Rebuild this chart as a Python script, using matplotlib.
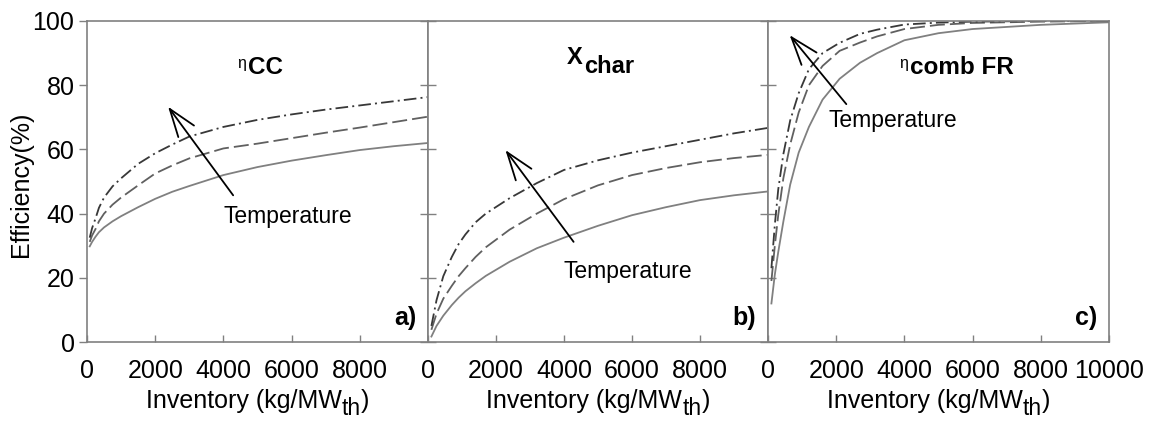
import matplotlib
matplotlib.use("Agg")
import matplotlib.pyplot as plt

plt.rcParams['font.family'] = ['Liberation Sans', 'DejaVu Sans']

# ---- data ----
xa = [80, 150, 250, 350, 500, 750, 1000, 1500, 2000, 2500, 3000, 4000, 5000, 6000, 7000, 8000, 9000, 10000]
a_solid = [29.8, 31.2, 32.8, 34.2, 35.7, 37.6, 39.2, 42.0, 44.6, 46.8, 48.6, 52.0, 54.5, 56.5, 58.2, 59.8, 61.0, 62.0]
a_dash = [31.2, 33.2, 35.2, 37.6, 40.0, 42.8, 45.0, 48.8, 52.5, 55.0, 57.2, 60.3, 61.8, 63.5, 65.2, 66.8, 68.5, 70.2]
a_dashdot = [32.5, 35.5, 38.5, 41.8, 45.0, 48.5, 51.0, 55.5, 58.8, 61.5, 64.0, 67.0, 69.2, 70.9, 72.4, 73.7, 75.0, 76.3]

xb = [100, 250, 450, 700, 900, 1100, 1400, 1700, 2400, 3200, 4000, 5000, 6000, 7000, 8000, 9000, 10000]
b_solid = [1.7, 5.0, 8.2, 11.5, 13.8, 15.8, 18.3, 20.6, 25.0, 29.2, 32.5, 36.2, 39.5, 42.0, 44.2, 45.7, 46.9]
b_dash = [3.8, 8.8, 13.5, 17.5, 20.5, 23.0, 26.5, 29.5, 35.0, 40.0, 44.5, 48.8, 52.0, 54.2, 56.0, 57.3, 58.3]
b_dashdot = [5.0, 13.0, 20.5, 26.5, 30.5, 33.5, 37.3, 40.0, 44.8, 49.5, 53.6, 56.6, 59.0, 61.0, 63.0, 65.0, 66.7]

xc = [100, 200, 300, 450, 650, 900, 1200, 1600, 2100, 2700, 3200, 4000, 5000, 6000, 8000, 10000]
c_solid = [12.0, 21.0, 28.0, 37.5, 49.0, 59.0, 67.0, 75.5, 82.0, 87.0, 90.0, 94.0, 96.2, 97.5, 98.8, 99.6]
c_dash = [19.0, 30.0, 39.5, 51.0, 61.5, 71.5, 80.0, 86.0, 90.7, 93.3, 95.2, 97.5, 98.8, 99.4, 99.8, 100.0]
c_dashdot = [23.0, 36.5, 47.5, 58.5, 69.0, 77.5, 85.0, 90.0, 93.2, 96.0, 97.3, 98.9, 99.5, 99.8, 100.0, 100.0]

yticks = [0, 20, 40, 60, 80, 100]
xticks_ab = [0, 2000, 4000, 6000, 8000]
xticks_c = [0, 2000, 4000, 6000, 8000, 10000]
panel_labels = ['a)', 'b)', 'c)']
xlabel_main, xlabel_sub, xlabel_end = 'Inventory (kg/MW', 'th', ')'
ylabel = 'Efficiency(%)'
temp_label = 'Temperature'

W, H = 1149, 421
fig = plt.figure(figsize=(W / 100, H / 100), dpi=100)
bottom = 1 - 342 / H
height = (342 - 21) / H
lefts = [87, 428, 768]
widths = [341, 340, 341]
axes = [fig.add_axes([l / W, bottom, w / W, height]) for l, w in zip(lefts, widths)]

series = [(xa, a_solid, a_dash, a_dashdot),
          (xb, b_solid, b_dash, b_dashdot),
          (xc, c_solid, c_dash, c_dashdot)]

spine_col = '#808080'
FS = 18
for i, (ax, (x, s, d, dd)) in enumerate(zip(axes, series)):
    ax.plot(x, s, color='#808080', lw=1.3, ls='-')
    ax.plot(x, d, color='#606060', lw=1.3, ls=(0, (8.3, 2.8)))
    ax.plot(x, dd, color='#383838', lw=1.3, ls=(0, (7, 2.3, 1.1, 2.3)))
    ax.set_xlim(0, 10000)
    ax.set_ylim(0, 100)
    for sp in ax.spines.values():
        sp.set_color(spine_col)
        sp.set_linewidth(1.2)
    ax.set_xticks(xticks_c if i == 2 else xticks_ab)
    ax.tick_params(axis='x', direction='in', length=5, width=1, color=spine_col,
                   labelsize=FS, pad=12)
    ax.set_yticks(yticks)
    if i == 0:
        ax.tick_params(axis='y', direction='out', length=6, width=1, color=spine_col,
                       labelsize=FS, pad=3)
        ax.set_ylabel(ylabel, fontsize=FS)
        ax.yaxis.set_label_coords(-0.158, 0.49)
    else:
        ax.tick_params(axis='y', direction='inout', length=12, width=1, color=spine_col,
                       labelleft=False)
    ax.text(0.965, 0.053, panel_labels[i], transform=ax.transAxes, ha='right',
            va='baseline', fontsize=FS, fontweight='bold')

# x labels with a large, lowered subscript
renderer = fig.canvas.get_renderer()
for l, w in zip(lefts, widths):
    t1 = fig.text(0, 0, xlabel_main, fontsize=FS)
    t2 = fig.text(0, 0, xlabel_sub, fontsize=16.5)
    t3 = fig.text(0, 0, xlabel_end, fontsize=FS)
    w1 = t1.get_window_extent(renderer).width
    w2 = t2.get_window_extent(renderer).width
    w3 = t3.get_window_extent(renderer).width
    x0 = l + w / 2 - (w1 + w2 + w3) / 2
    base = 13
    t1.set_position((x0 / W, base / H)); t1.set_va('baseline')
    t2.set_position(((x0 + w1) / W, (base - 7) / H)); t2.set_va('baseline')
    t3.set_position(((x0 + w1 + w2) / W, base / H)); t3.set_va('baseline')

# titles
axes[0].text(4408, 85.4, '\u03b7', fontsize=11.5, ha='left', va='baseline')
axes[0].text(4730, 83.5, 'CC', fontsize=17.5, fontweight='bold', ha='left', va='baseline')
axes[1].text(4088, 86.6, 'X', fontsize=17, fontweight='bold', ha='left', va='baseline')
axes[1].text(4600, 83.9, 'char', fontsize=17, fontweight='bold', ha='left', va='baseline')
axes[2].text(3842, 85.4, '\u03b7', fontsize=11.5, ha='left', va='baseline')
axes[2].text(4155, 83.5, 'comb FR', fontsize=17.5, fontweight='bold', ha='left', va='baseline')

# arrows and Temperature labels
arrow = dict(arrowstyle='->,head_length=1.0,head_width=0.35', color='black', lw=1.3,
             mutation_scale=20, shrinkA=0, shrinkB=0)
axes[0].annotate('', xy=(2378, 73.3), xytext=(4286, 45.7), arrowprops=arrow)
axes[0].text(3997, 37.2, temp_label, fontsize=16.5, ha='left', va='baseline')
axes[1].annotate('', xy=(2277, 59.8), xytext=(4282, 31.2), arrowprops=arrow)
axes[1].text(3988, 19.8, temp_label, fontsize=16.5, ha='left', va='baseline')
axes[2].annotate('', xy=(635, 95.6), xytext=(2297, 74.1), arrowprops=arrow)
axes[2].text(1760, 66.9, temp_label, fontsize=16.5, ha='left', va='baseline')

fig.savefig('out.png', dpi=100)
